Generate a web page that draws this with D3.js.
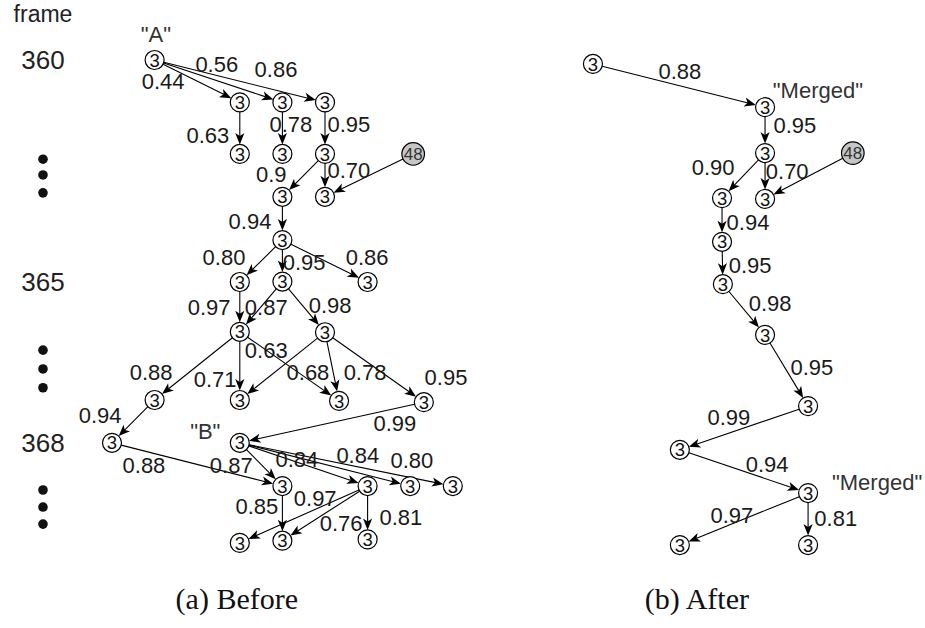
<!DOCTYPE html>
<html>
<head>
<meta charset="utf-8">
<script src="https://cdn.jsdelivr.net/npm/d3@7"></script>
<style>
  body { margin: 0; background: #fff; }
  svg { display: block; }
</style>
</head>
<body>
<script>
// layout units: col (horizontal lane), row (vertical step)
const nodes = [
  // (a) before
  { id: 'A', col: 1, row: 0, label: '3' },
  { id: 'a1', col: 3, row: 0.97, label: '3' },
  { id: 'a2', col: 4, row: 0.97, label: '3' },
  { id: 'a3', col: 5, row: 0.97, label: '3' },
  { id: 'a4', col: 3, row: 2.15, label: '3' },
  { id: 'a5', col: 4, row: 2.15, label: '3' },
  { id: 'a6', col: 5, row: 2.15, label: '3' },
  { id: 'g48', col: 7.07, row: 2.15, label: '48', other: true },
  { id: 'a7', col: 4, row: 3.13, label: '3' },
  { id: 'a8', col: 5, row: 3.13, label: '3' },
  { id: 'a9', col: 4, row: 4.12, label: '3' },
  { id: 'a10', col: 3, row: 5.08, label: '3' },
  { id: 'a11', col: 4, row: 5.07, label: '3' },
  { id: 'a12', col: 6, row: 5.08, label: '3' },
  { id: 'a13', col: 3, row: 6.22, label: '3' },
  { id: 'a14', col: 5, row: 6.23, label: '3' },
  { id: 'a15', col: 1, row: 7.78, label: '3' },
  { id: 'a16', col: 3, row: 7.78, label: '3' },
  { id: 'a17', col: 5.33, row: 7.8, label: '3' },
  { id: 'a18', col: 7.32, row: 7.83, label: '3' },
  { id: 'a19', col: 0, row: 8.76, label: '3' },
  { id: 'B', col: 3, row: 8.76, label: '3' },
  { id: 'a20', col: 4, row: 9.75, label: '3' },
  { id: 'a21', col: 6, row: 9.75, label: '3' },
  { id: 'a22', col: 7, row: 9.75, label: '3' },
  { id: 'a23', col: 8, row: 9.75, label: '3' },
  { id: 'a24', col: 3, row: 11.05, label: '3' },
  { id: 'a25', col: 4, row: 11.0, label: '3' },
  { id: 'a26', col: 6, row: 10.97, label: '3' },
  // (b) after
  { id: 'r0', col: 11.29, row: 0.09, label: '3' },
  { id: 'r1', col: 15.33, row: 1.08, label: '3' },
  { id: 'r2', col: 15.33, row: 2.13, label: '3' },
  { id: 'h48', col: 17.39, row: 2.13, label: '48', other: true },
  { id: 'r3', col: 14.32, row: 3.16, label: '3' },
  { id: 'r4', col: 15.33, row: 3.18, label: '3' },
  { id: 'r5', col: 14.32, row: 4.16, label: '3' },
  { id: 'r6', col: 14.34, row: 5.13, label: '3' },
  { id: 'r7', col: 15.33, row: 6.29, label: '3' },
  { id: 'r8', col: 16.34, row: 7.92, label: '3' },
  { id: 'r9', col: 13.33, row: 8.92, label: '3' },
  { id: 'r10', col: 16.34, row: 9.91, label: '3' },
  { id: 'r11', col: 13.33, row: 11.1, label: '3' },
  { id: 'r12', col: 16.34, row: 11.1, label: '3' }
]

// [source, target, similarity, label col, label row]
const edges = [
  ['A', 'a1', '0.44', 1.2, 0.48],
  ['A', 'a2', '0.56', 2.46, 0.09],
  ['A', 'a3', '0.86', 3.85, 0.21],
  ['a1', 'a4', '0.63', 2.25, 1.72],
  ['a2', 'a5', '0.78', 4.2, 1.46],
  ['a3', 'a6', '0.95', 5.56, 1.46],
  ['a6', 'a7', '0.9', 3.74, 2.6],
  ['a6', 'a8', '0.70', 5.56, 2.52],
  ['g48', 'a8', null],
  ['a7', 'a9', '0.94', 3.24, 3.68],
  ['a9', 'a10', '0.80', 2.63, 4.51],
  ['a9', 'a11', '0.95', 4.51, 4.62],
  ['a9', 'a12', '0.86', 5.99, 4.51],
  ['a10', 'a13', '0.97', 2.28, 5.65],
  ['a11', 'a13', '0.87', 3.62, 5.65],
  ['a11', 'a14', '0.98', 5.12, 5.61],
  ['a13', 'a15', '0.88', 0.92, 7.14],
  ['a13', 'a16', '0.71', 2.42, 7.3],
  ['a13', 'a17', '0.63', 3.62, 6.64],
  ['a14', 'a16', '0.68', 4.6, 7.14],
  ['a14', 'a17', '0.78', 5.94, 7.14],
  ['a14', 'a18', '0.95', 7.84, 7.25],
  ['a15', 'a19', '0.94', -0.28, 8.12],
  ['a18', 'B', '0.99', 6.64, 8.31],
  ['a19', 'a20', '0.88', 0.75, 9.27],
  ['B', 'a20', '0.87', 2.8, 9.26],
  ['B', 'a21', '0.84', 4.34, 9.13],
  ['B', 'a22', '0.84', 5.77, 9.04],
  ['B', 'a23', '0.80', 7.04, 9.15],
  ['a20', 'a25', '0.85', 3.4, 10.21],
  ['a21', 'a24', '0.97', 4.77, 10.02],
  ['a21', 'a25', '0.76', 5.38, 10.59],
  ['a21', 'a26', '0.81', 6.78, 10.46],
  ['r0', 'r1', '0.88', 13.33, 0.25],
  ['r1', 'r2', '0.95', 16.03, 1.49],
  ['r2', 'r3', '0.90', 14.11, 2.45],
  ['r2', 'r4', '0.70', 15.85, 2.54],
  ['h48', 'r4', null],
  ['r3', 'r5', '0.94', 14.93, 3.71],
  ['r5', 'r6', '0.95', 14.98, 4.69],
  ['r6', 'r7', '0.98', 15.45, 5.56],
  ['r7', 'r8', '0.95', 16.43, 7.03],
  ['r8', 'r9', '0.99', 14.48, 8.17],
  ['r9', 'r10', '0.94', 15.38, 9.24],
  ['r10', 'r11', '0.97', 14.55, 10.41],
  ['r10', 'r12', '0.81', 16.99, 10.48]
]

// quoted track names
const notes = [
  { text: '"A"', col: 1.03, row: -0.59 },
  { text: '"B"', col: 2.19, row: 8.5 },
  { text: '"Merged"', col: 16.57, row: 0.69 },
  { text: '"Merged"', col: 17.96, row: 9.66 }
]

const frameTicks = [
  { label: '360', row: 0 },
  { label: '365', row: 5.08 },
  { label: '368', row: 8.76 }
]
const skipDots = [2.27, 2.63, 3.04, 6.64, 7.07, 7.5, 9.84, 10.23, 10.62]

const captions = [
  { text: '(a) Before', col: 2.93 },
  { text: '(b) After', col: 13.73 }
]

const W = 925, H = 628
const x = d3.scaleLinear().domain([0, 10]).range([112, 538])
const y = d3.scaleLinear().domain([0, 10]).range([60, 497])

const R = 9.5, R48 = 11.3
const SANS = 'Liberation Sans, Arial, Helvetica, sans-serif'

const svg = d3.select('body').append('svg')
    .attr('width', W)
    .attr('height', H)

const byId = new Map(nodes.map(d => [d.id, d]))
const radius = d => d.other ? R48 : R

// edges
const arrowPath = 'M0,0 L-11.5,-4.6 L-8.5,0 L-11.5,4.6 Z'
const eg = svg.append('g')
edges.forEach(e => {
    const s = byId.get(e[0]), t = byId.get(e[1])
    const x1 = x(s.col), y1 = y(s.row), x2 = x(t.col), y2 = y(t.row)
    const ang = Math.atan2(y2 - y1, x2 - x1)
    const rs = radius(s), rt = radius(t)
    const sx = x1 + rs * Math.cos(ang), sy = y1 + rs * Math.sin(ang)
    const tx = x2 - rt * Math.cos(ang), ty = y2 - rt * Math.sin(ang)
    eg.append('line')
        .attr('x1', sx).attr('y1', sy)
        .attr('x2', tx - 8 * Math.cos(ang)).attr('y2', ty - 8 * Math.sin(ang))
        .attr('stroke', '#000')
        .attr('stroke-width', 1.1)
    eg.append('path')
        .attr('d', arrowPath)
        .attr('fill', '#000')
        .attr('transform', `translate(${tx},${ty}) rotate(${ang * 180 / Math.PI})`)
})

// nodes
const ng = svg.append('g')
    .selectAll('g')
    .data(nodes)
    .join('g')
    .attr('transform', d => `translate(${x(d.col)},${y(d.row)})`)

ng.append('circle')
    .attr('r', radius)
    .attr('fill', d => d.other ? '#c6c6c6' : '#fff')
    .attr('stroke', '#000')
    .attr('stroke-width', 1.2)

ng.append('text')
    .attr('text-anchor', 'middle')
    .attr('dy', '0.36em')
    .attr('font-family', SANS)
    .attr('font-size', d => d.other ? 17 : 18.5)
    .attr('fill', d => d.other ? '#333' : '#111')
    .text(d => d.label)

// similarity labels
svg.append('g')
    .selectAll('text')
    .data(edges.filter(e => e[2]))
    .join('text')
    .attr('x', e => x(e[3]))
    .attr('y', e => y(e[4]))
    .attr('dy', '0.36em')
    .attr('text-anchor', 'middle')
    .attr('font-family', SANS)
    .attr('font-size', 22)
    .attr('fill', '#1a1a1a')
    .text(e => e[2])

svg.append('g')
    .selectAll('text')
    .data(notes)
    .join('text')
    .attr('x', d => x(d.col))
    .attr('y', d => y(d.row))
    .attr('dy', '0.36em')
    .attr('text-anchor', 'middle')
    .attr('font-family', SANS)
    .attr('font-size', 22)
    .attr('fill', '#333')
    .text(d => d.text)

// frame axis
const fx = x(-1.62)
svg.append('text')
    .attr('x', fx).attr('y', 22)
    .attr('text-anchor', 'middle')
    .attr('font-family', SANS)
    .attr('font-size', 23)
    .attr('fill', '#222')
    .text('frame')

svg.append('g')
    .selectAll('text')
    .data(frameTicks)
    .join('text')
    .attr('x', fx)
    .attr('y', d => y(d.row))
    .attr('dy', '0.36em')
    .attr('text-anchor', 'middle')
    .attr('font-family', SANS)
    .attr('font-size', 26)
    .attr('fill', '#222')
    .text(d => d.label)

svg.append('g')
    .selectAll('circle')
    .data(skipDots)
    .join('circle')
    .attr('cx', fx)
    .attr('cy', d => y(d))
    .attr('r', 4.8)
    .attr('fill', '#111')

// captions
svg.append('g')
    .selectAll('text')
    .data(captions)
    .join('text')
    .attr('x', d => x(d.col))
    .attr('y', 609)
    .attr('text-anchor', 'middle')
    .attr('font-family', 'Liberation Serif, Times New Roman, serif')
    .attr('font-size', 30)
    .attr('fill', '#111')
    .text(d => d.text)
</script>
</body>
</html>
